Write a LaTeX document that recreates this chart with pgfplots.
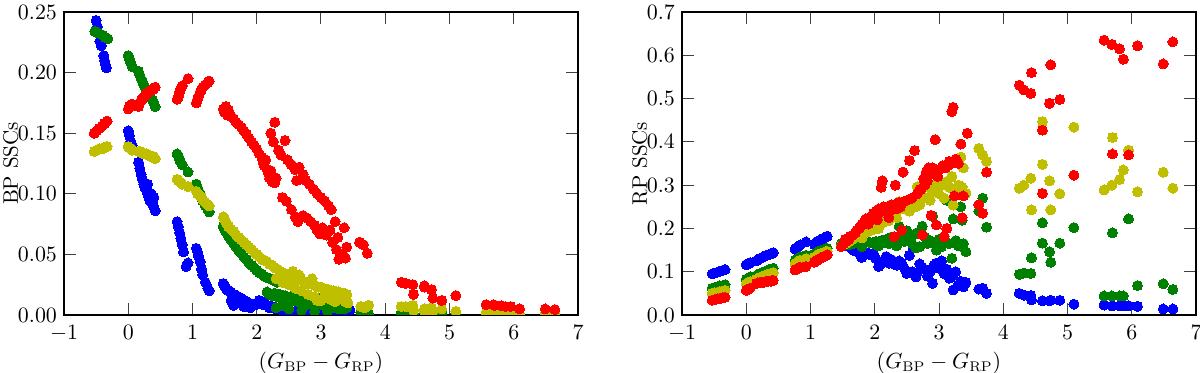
\documentclass[border=0pt]{standalone}
\usepackage{pgfplots}
\pgfplotsset{compat=1.18}
\definecolor{mb}{rgb}{0,0,1}
\definecolor{mg}{rgb}{0,0.5,0}
\definecolor{my}{rgb}{0.75,0.75,0}
\definecolor{mr}{rgb}{1,0,0}
\pgfplotsset{
  ssc/.style={width=257pt,height=151.5pt,scale only axis,
    xmin=-1,xmax=7,xtick={-1,0,1,2,3,4,5,6,7},ymin=0,
    axis line style={line width=1pt},
    every tick/.style={black!75,line width=0.5pt},
    major tick length=6pt,tick align=inside,
    tick label style={font=\fontsize{10.5}{12}\selectfont},
    xticklabel style={yshift=-1.5pt},
    label style={font=\fontsize{10.5}{12}\selectfont},
    xlabel={$(G_{\mathrm{BP}}-G_{\mathrm{RP}})$},
    xlabel shift=-1.5pt,
    ylabel shift=-7pt,
    scaled y ticks=false,
    clip marker paths=true},
  dots/.style={only marks,mark=*,mark size=2.5pt,
    mark options={draw=#1,fill=#1,line width=0pt}},
}
\begin{document}
\begin{tikzpicture}
\useasboundingbox (-32pt,-29pt) rectangle (568pt,157.5pt);
% ---------------- BP panel ----------------
\begin{axis}[ssc,at={(0pt,0pt)},anchor=south west,
  ymax=0.25,ytick={0,0.05,0.10,0.15,0.20,0.25},
  yticklabel style={/pgf/number format/.cd,fixed,fixed zerofill,precision=2},
  ylabel={BP SSCs}]
\addplot[dots=mb] coordinates {
(-0.50,0.243)(-0.48,0.238)(-0.46,0.232)(-0.44,0.226)(-0.42,0.222)(-0.38,0.214)(-0.37,0.210)(-0.35,0.206)(-0.34,0.204)
(0.00,0.152)(0.02,0.148)(0.04,0.143)(0.06,0.140)(0.16,0.126)(0.18,0.121)(0.20,0.116)(0.22,0.112)(0.24,0.108)(0.26,0.105)(0.28,0.103)(0.30,0.100)(0.32,0.097)(0.34,0.094)(0.38,0.092)(0.40,0.089)(0.42,0.086)(0.30,0.108)(0.36,0.100)(0.40,0.097)
(0.76,0.077)(0.78,0.073)(0.80,0.068)(0.82,0.063)(0.84,0.058)(0.86,0.052)(0.93,0.043)(0.90,0.040)(1.06,0.055)(1.08,0.052)(1.10,0.048)(1.12,0.044)(1.14,0.038)(1.16,0.033)(1.20,0.027)(1.24,0.022)(1.26,0.020)
(1.48,0.026)(1.50,0.024)(1.52,0.022)(1.54,0.021)(1.56,0.020)(1.60,0.019)(1.64,0.017)(1.68,0.016)(1.72,0.015)(1.76,0.014)(1.80,0.012)(1.84,0.011)(1.88,0.010)(1.92,0.009)(1.96,0.008)(1.60,0.012)(1.64,0.008)(1.70,0.010)(1.80,0.007)(1.90,0.006)
(2.00,0.010)(2.04,0.012)(2.08,0.009)(2.12,0.011)(2.16,0.008)(2.20,0.006)(2.24,0.007)(2.30,0.005)(2.40,0.004)(2.50,0.004)(2.60,0.003)(2.70,0.003)(2.80,0.003)(2.90,0.002)(3.00,0.002)(3.10,0.002)(3.20,0.002)(3.30,0.003)(3.40,0.002)(3.45,0.004)
(3.62,0.0005)(3.68,0.0005)(3.74,0.0005)(4.25,0.0005)(4.32,0.0005)(4.43,0.0005)(4.61,0.0005)(4.74,0.0005)(4.88,0.0005)(5.10,0.0005)(5.57,0.0005)(5.70,0.0005)(5.87,0.0005)(6.09,0.0005)(6.49,0.0005)(6.64,0.0005)
};
\addplot[dots=mg] coordinates {
(-0.52,0.234)(-0.48,0.233)(-0.44,0.232)(-0.40,0.231)(-0.36,0.229)(-0.32,0.228)
(0.00,0.214)(0.02,0.211)(0.04,0.208)(0.06,0.205)(0.16,0.201)(0.18,0.198)(0.20,0.195)(0.22,0.193)(0.24,0.190)(0.26,0.188)(0.28,0.186)(0.30,0.184)(0.32,0.182)(0.34,0.180)(0.38,0.177)(0.40,0.175)(0.42,0.172)
(0.76,0.133)(0.78,0.131)(0.80,0.128)(0.82,0.126)(0.84,0.124)(0.93,0.118)(1.06,0.108)(1.08,0.105)(1.10,0.102)(1.12,0.100)(1.14,0.097)(1.16,0.094)(1.20,0.090)(1.24,0.087)(1.26,0.085)
(1.48,0.073)(1.50,0.071)(1.52,0.069)(1.54,0.067)(1.56,0.065)(1.60,0.062)(1.64,0.059)(1.68,0.056)(1.72,0.053)(1.76,0.051)(1.80,0.048)(1.84,0.046)(1.88,0.043)(1.92,0.041)(1.96,0.039)(2.00,0.037)(2.04,0.035)(2.08,0.034)(2.12,0.032)(2.16,0.031)(2.20,0.030)(2.24,0.029)(2.28,0.028)(2.32,0.027)
(2.16,0.019)(2.20,0.017)(2.24,0.016)(2.28,0.018)(2.32,0.015)(2.36,0.017)(2.40,0.014)(2.44,0.016)(2.48,0.013)(2.52,0.015)(2.56,0.012)(2.60,0.014)(2.64,0.011)(2.68,0.013)(2.72,0.010)(2.76,0.012)(2.80,0.009)(2.84,0.011)(2.88,0.008)(2.92,0.012)(2.96,0.009)(3.00,0.014)(3.04,0.008)(3.08,0.010)(3.12,0.007)(3.16,0.009)(3.20,0.006)(3.24,0.008)(3.28,0.005)(3.32,0.007)(3.36,0.005)(3.40,0.006)(2.30,0.006)(2.50,0.005)(2.70,0.004)(2.90,0.003)(3.10,0.003)(2.40,0.008)
(3.62,0.002)(3.68,0.002)(3.74,0.001)(4.25,0.002)(4.32,0.002)(4.43,0.002)(4.44,0.001)(4.61,0.002)(4.72,0.002)(4.74,0.001)(4.88,0.002)(5.10,0.001)(5.57,0.001)(5.69,0.001)(5.81,0.001)(5.87,0.001)(5.95,0.001)(6.09,0.001)(6.49,0.001)(6.64,0.001)
};
\addplot[dots=my] coordinates {
(-0.53,0.135)(-0.49,0.136)(-0.45,0.137)(-0.41,0.137)(-0.37,0.138)(-0.33,0.139)
(0.00,0.139)(0.02,0.138)(0.04,0.137)(0.06,0.136)(0.16,0.135)(0.18,0.135)(0.20,0.134)(0.22,0.134)(0.24,0.133)(0.26,0.133)(0.28,0.133)(0.30,0.132)(0.32,0.132)(0.34,0.131)(0.38,0.131)(0.40,0.130)(0.42,0.129)
(0.76,0.112)(0.78,0.111)(0.80,0.110)(0.82,0.109)(0.84,0.108)(0.93,0.106)(1.06,0.102)(1.08,0.100)(1.10,0.099)(1.12,0.098)(1.14,0.097)(1.16,0.095)(1.20,0.093)(1.24,0.091)(1.26,0.090)
(1.48,0.081)(1.50,0.079)(1.52,0.077)(1.54,0.075)(1.56,0.073)(1.60,0.071)(1.64,0.069)(1.68,0.066)(1.72,0.064)(1.76,0.062)(1.80,0.060)(1.84,0.058)(1.88,0.056)(1.92,0.054)(1.96,0.052)(2.00,0.050)(2.04,0.048)(2.08,0.046)(2.12,0.045)(2.16,0.044)(2.20,0.042)(2.24,0.041)(2.28,0.039)(2.32,0.038)(2.36,0.036)(2.40,0.035)(2.44,0.034)(2.48,0.033)(2.52,0.032)(2.56,0.031)(2.60,0.030)(2.64,0.029)(2.68,0.029)(2.72,0.028)(2.76,0.027)(2.80,0.026)(2.84,0.026)(2.88,0.025)(2.92,0.024)(2.96,0.023)(3.00,0.023)(3.04,0.022)(3.08,0.021)(3.12,0.021)(3.16,0.020)(3.20,0.020)(3.24,0.019)(3.28,0.019)(3.32,0.018)(3.36,0.018)(3.40,0.017)
(2.30,0.030)(2.40,0.027)(2.50,0.025)(2.60,0.022)(2.70,0.020)(2.80,0.017)(2.90,0.015)(2.94,0.012)(3.00,0.012)(3.06,0.016)(3.14,0.013)(3.22,0.011)(3.30,0.014)(3.38,0.011)(3.42,0.010)(2.56,0.036)(2.66,0.033)(2.86,0.030)
(3.62,0.007)(3.68,0.006)(3.74,0.008)(4.25,0.007)(4.32,0.007)(4.43,0.008)(4.44,0.004)(4.61,0.005)(4.61,0.003)(4.72,0.006)(4.74,0.003)(4.88,0.005)(5.10,0.003)(5.57,0.002)(5.69,0.002)(5.70,0.001)(5.81,0.002)(5.87,0.002)(5.95,0.001)(6.09,0.001)(6.49,0.001)(6.64,0.001)
};
\addplot[dots=mr] coordinates {
(-0.53,0.150)(-0.49,0.152)(-0.45,0.154)(-0.41,0.156)(-0.37,0.158)(-0.33,0.160)
(0.00,0.170)(0.02,0.172)(0.04,0.173)(0.06,0.174)(0.16,0.172)(0.18,0.175)(0.20,0.177)(0.22,0.178)(0.24,0.180)(0.26,0.181)(0.28,0.182)(0.30,0.183)(0.32,0.184)(0.34,0.185)(0.38,0.186)(0.40,0.187)(0.42,0.188)
(0.76,0.178)(0.78,0.180)(0.80,0.184)(0.82,0.187)(0.84,0.189)(0.93,0.195)(1.06,0.175)(1.08,0.178)(1.10,0.181)(1.12,0.184)(1.14,0.186)(1.16,0.188)(1.20,0.190)(1.24,0.192)(1.26,0.193)
(1.48,0.170)(1.50,0.167)(1.52,0.172)(1.54,0.165)(1.56,0.169)(1.60,0.164)(1.64,0.162)(1.68,0.159)(1.72,0.157)(1.76,0.155)(1.80,0.152)(1.84,0.149)(1.88,0.146)(1.92,0.143)(1.96,0.140)(2.00,0.137)(2.04,0.133)(2.08,0.130)(2.10,0.126)(2.12,0.123)(2.14,0.128)(2.16,0.120)(2.18,0.117)(2.20,0.113)(2.22,0.119)(2.24,0.110)(2.28,0.109)(2.30,0.113)
(2.22,0.150)(2.28,0.159)(2.26,0.143)(2.34,0.136)(2.38,0.132)(2.44,0.144)(2.48,0.128)(2.54,0.124)(2.60,0.120)(2.66,0.122)(2.72,0.116)(2.76,0.111)(2.82,0.108)(2.88,0.104)(2.94,0.100)(3.00,0.097)(3.06,0.094)(3.12,0.090)(3.16,0.087)(2.62,0.111)
(2.40,0.097)(2.46,0.094)(2.54,0.087)(2.60,0.081)(2.64,0.077)(2.72,0.082)(2.78,0.080)(2.84,0.077)(2.90,0.074)(2.94,0.070)(2.98,0.067)(3.02,0.072)(3.08,0.066)(3.14,0.070)(3.18,0.060)(3.22,0.077)(3.24,0.054)(3.26,0.064)(3.28,0.046)(3.34,0.050)(3.36,0.072)(3.38,0.047)(3.40,0.056)(3.60,0.060)(3.66,0.058)(3.72,0.051)
(4.25,0.027)(4.32,0.026)(4.43,0.025)(4.44,0.017)(4.61,0.024)(4.61,0.023)(4.72,0.021)(4.74,0.014)(4.88,0.012)(5.10,0.016)(5.57,0.0085)(5.69,0.0085)(5.70,0.008)(5.81,0.0075)(5.87,0.007)(5.95,0.007)(6.09,0.005)(6.49,0.005)(6.64,0.0045)
};
\end{axis}
% ---------------- RP panel ----------------
\begin{axis}[ssc,at={(309pt,0pt)},anchor=south west,
  ymax=0.7,ytick={0,0.1,0.2,0.3,0.4,0.5,0.6,0.7},
  yticklabel style={/pgf/number format/.cd,fixed,fixed zerofill,precision=1},
  ylabel={RP SSCs}]
\addplot[dots=mb] coordinates {
(-0.53,0.095)(-0.49,0.097)(-0.45,0.099)(-0.41,0.101)(-0.37,0.103)(-0.33,0.105)
(0.00,0.116)(0.02,0.118)(0.04,0.119)(0.06,0.121)(0.16,0.125)(0.18,0.127)(0.20,0.129)(0.22,0.131)(0.24,0.132)(0.26,0.134)(0.28,0.135)(0.30,0.137)(0.32,0.138)(0.34,0.139)(0.38,0.141)(0.40,0.142)(0.42,0.144)
(0.76,0.152)(0.78,0.155)(0.80,0.157)(0.82,0.160)(0.84,0.162)(0.93,0.169)(1.06,0.163)(1.08,0.166)(1.10,0.168)(1.12,0.170)(1.14,0.172)(1.16,0.174)(1.20,0.177)(1.24,0.180)(1.26,0.182)
(1.48,0.165)(1.52,0.163)(1.56,0.160)(1.60,0.158)(1.66,0.150)(1.72,0.148)(1.78,0.138)(1.80,0.133)(1.86,0.145)(1.92,0.140)(1.98,0.142)(2.02,0.130)(2.06,0.112)(2.10,0.118)(2.14,0.125)(2.18,0.135)(2.22,0.120)(2.26,0.128)(2.30,0.118)(2.34,0.115)(2.38,0.125)(2.42,0.120)(2.46,0.108)(2.50,0.096)(2.54,0.138)(2.58,0.100)(2.60,0.155)(2.64,0.088)(2.66,0.098)(2.70,0.118)(2.74,0.110)(2.78,0.105)(2.82,0.090)(2.86,0.100)(2.90,0.073)(2.92,0.115)(2.96,0.120)(3.00,0.108)(3.04,0.125)(3.08,0.095)(3.12,0.106)(3.16,0.085)(3.20,0.090)(3.22,0.058)(3.26,0.100)(3.30,0.070)(3.34,0.078)(3.38,0.065)(3.42,0.075)(3.62,0.060)(3.68,0.062)(3.74,0.050)
(4.25,0.050)(4.32,0.046)(4.43,0.045)(4.44,0.035)(4.61,0.033)(4.72,0.033)(4.74,0.034)(4.88,0.034)(5.10,0.025)(5.57,0.023)(5.69,0.021)(5.70,0.021)(5.81,0.021)(5.87,0.021)(5.95,0.021)(6.09,0.020)(6.49,0.014)(6.64,0.014)
};
\addplot[dots=mg] coordinates {
(-0.53,0.062)(-0.49,0.064)(-0.45,0.065)(-0.41,0.067)(-0.37,0.068)(-0.33,0.070)
(0.00,0.082)(0.02,0.084)(0.04,0.086)(0.06,0.088)(0.16,0.091)(0.18,0.093)(0.20,0.094)(0.22,0.096)(0.24,0.097)(0.26,0.099)(0.28,0.100)(0.30,0.101)(0.32,0.102)(0.34,0.104)(0.38,0.105)(0.40,0.106)(0.42,0.108)
(0.76,0.126)(0.78,0.128)(0.80,0.130)(0.82,0.132)(0.84,0.134)(0.93,0.138)(1.06,0.140)(1.08,0.142)(1.10,0.144)(1.12,0.146)(1.14,0.147)(1.16,0.149)(1.20,0.151)(1.24,0.153)(1.26,0.154)
(1.48,0.165)(1.52,0.163)(1.56,0.162)(1.60,0.163)(1.66,0.165)(1.72,0.167)(1.78,0.166)(1.80,0.158)(1.86,0.170)(1.92,0.168)(1.98,0.165)(2.02,0.170)(2.06,0.160)(2.10,0.172)(2.14,0.168)(2.18,0.175)(2.22,0.165)(2.26,0.180)(2.30,0.170)(2.34,0.160)(2.38,0.205)(2.42,0.178)(2.46,0.170)(2.50,0.195)(2.54,0.172)(2.58,0.165)(2.60,0.185)(2.64,0.155)(2.66,0.190)(2.70,0.158)(2.74,0.205)(2.78,0.180)(2.82,0.165)(2.86,0.172)(2.90,0.228)(2.92,0.168)(2.96,0.150)(3.00,0.175)(3.04,0.158)(3.08,0.170)(3.12,0.265)(3.16,0.165)(3.20,0.131)(3.22,0.222)(3.26,0.172)(3.30,0.160)(3.34,0.250)(3.36,0.219)(3.38,0.165)(3.42,0.146)(3.62,0.240)(3.68,0.270)(3.74,0.203)
(4.25,0.094)(4.32,0.097)(4.43,0.096)(4.44,0.132)(4.61,0.213)(4.61,0.166)(4.72,0.146)(4.74,0.122)(4.88,0.166)(5.10,0.202)(5.57,0.044)(5.69,0.044)(5.70,0.190)(5.81,0.044)(5.87,0.044)(5.95,0.222)(6.09,0.068)(6.49,0.072)(6.64,0.059)
};
\addplot[dots=my] coordinates {
(-0.53,0.050)(-0.49,0.051)(-0.45,0.052)(-0.41,0.054)(-0.37,0.055)(-0.33,0.057)
(0.00,0.072)(0.02,0.073)(0.04,0.075)(0.06,0.077)(0.16,0.082)(0.18,0.084)(0.20,0.085)(0.22,0.087)(0.24,0.088)(0.26,0.090)(0.28,0.091)(0.30,0.092)(0.32,0.093)(0.34,0.094)(0.38,0.096)(0.40,0.097)(0.42,0.098)
(0.76,0.118)(0.78,0.120)(0.80,0.122)(0.82,0.124)(0.84,0.126)(0.93,0.130)(1.06,0.133)(1.08,0.135)(1.10,0.137)(1.12,0.139)(1.14,0.140)(1.16,0.142)(1.20,0.144)(1.24,0.146)(1.26,0.147)
(1.48,0.160)(1.52,0.163)(1.56,0.166)(1.60,0.170)(1.66,0.175)(1.72,0.180)(1.78,0.185)(1.80,0.178)(1.86,0.190)(1.92,0.195)(1.98,0.198)(2.02,0.205)(2.06,0.200)(2.10,0.210)(2.14,0.215)(2.18,0.220)(2.22,0.218)(2.26,0.228)(2.30,0.232)(2.34,0.225)(2.38,0.262)(2.42,0.245)(2.46,0.250)(2.50,0.258)(2.54,0.240)(2.58,0.262)(2.60,0.265)(2.64,0.250)(2.66,0.296)(2.70,0.255)(2.74,0.275)(2.78,0.296)(2.82,0.270)(2.86,0.265)(2.90,0.285)(2.92,0.300)(2.96,0.289)(3.00,0.280)(3.04,0.300)(3.08,0.270)(3.12,0.308)(3.16,0.295)(3.20,0.320)(3.22,0.254)(3.26,0.290)(3.30,0.300)(3.34,0.365)(3.36,0.296)(3.38,0.340)(3.42,0.281)(3.62,0.385)(3.68,0.370)(3.74,0.355)
(4.25,0.293)(4.32,0.300)(4.43,0.316)(4.44,0.243)(4.61,0.447)(4.61,0.348)(4.72,0.310)(4.74,0.243)(4.88,0.280)(5.10,0.434)(5.57,0.289)(5.69,0.300)(5.70,0.410)(5.81,0.313)(5.87,0.335)(5.95,0.381)(6.09,0.285)(6.49,0.330)(6.64,0.293)
};
\addplot[dots=mr] coordinates {
(-0.53,0.034)(-0.49,0.035)(-0.45,0.037)(-0.41,0.038)(-0.37,0.040)(-0.33,0.041)
(0.00,0.057)(0.02,0.059)(0.04,0.060)(0.06,0.062)(0.16,0.073)(0.18,0.074)(0.20,0.074)(0.22,0.075)(0.24,0.075)(0.26,0.076)(0.28,0.076)(0.30,0.077)(0.32,0.077)(0.34,0.078)(0.38,0.078)(0.40,0.079)(0.42,0.080)
(0.76,0.104)(0.78,0.106)(0.80,0.107)(0.82,0.109)(0.84,0.110)(0.93,0.112)(1.06,0.122)(1.08,0.124)(1.10,0.126)(1.12,0.128)(1.14,0.130)(1.16,0.132)(1.20,0.134)(1.24,0.137)(1.26,0.139)
(1.48,0.158)(1.52,0.165)(1.56,0.170)(1.60,0.175)(1.66,0.185)(1.72,0.196)(1.78,0.205)(1.80,0.210)(1.86,0.222)(1.92,0.225)(1.98,0.235)(2.02,0.240)(2.06,0.245)(2.10,0.295)(2.12,0.310)(2.14,0.250)(2.18,0.240)(2.22,0.225)(2.26,0.255)(2.30,0.181)(2.32,0.300)(2.34,0.245)(2.38,0.260)(2.42,0.196)(2.44,0.330)(2.46,0.262)(2.50,0.265)(2.54,0.357)(2.58,0.270)(2.62,0.380)(2.66,0.280)(2.70,0.290)(2.74,0.185)(2.76,0.315)(2.80,0.330)(2.84,0.340)(2.88,0.230)(2.90,0.340)(2.94,0.405)(2.96,0.208)(3.00,0.335)(3.04,0.340)(3.08,0.181)(3.12,0.200)(3.14,0.345)(3.18,0.350)(3.20,0.470)(3.22,0.480)(3.24,0.275)(3.28,0.355)(3.34,0.395)(3.36,0.225)(3.38,0.275)(3.44,0.420)
(1.54,0.175)(1.62,0.182)(1.70,0.190)(1.76,0.200)(1.84,0.215)(1.90,0.210)(1.96,0.228)(2.00,0.232)(2.04,0.220)(2.08,0.238)(2.16,0.245)(2.20,0.250)(2.24,0.240)(2.28,0.248)(2.36,0.258)(2.40,0.250)(2.86,0.325)(2.92,0.335)(2.98,0.320)(3.06,0.345)(3.10,0.340)(3.16,0.355)(3.26,0.360)(3.30,0.350)(2.78,0.300)(2.82,0.310)(2.72,0.290)
(3.62,0.255)(3.68,0.235)(3.74,0.330)
(4.25,0.531)(4.32,0.520)(4.43,0.512)(4.44,0.560)(4.61,0.427)(4.61,0.281)(4.72,0.489)(4.74,0.578)(4.88,0.498)(5.10,0.323)(5.57,0.635)(5.69,0.625)(5.70,0.372)(5.81,0.615)(5.87,0.591)(5.95,0.370)(6.09,0.622)(6.49,0.580)(6.64,0.631)
};
\end{axis}
\end{tikzpicture}
\end{document}
